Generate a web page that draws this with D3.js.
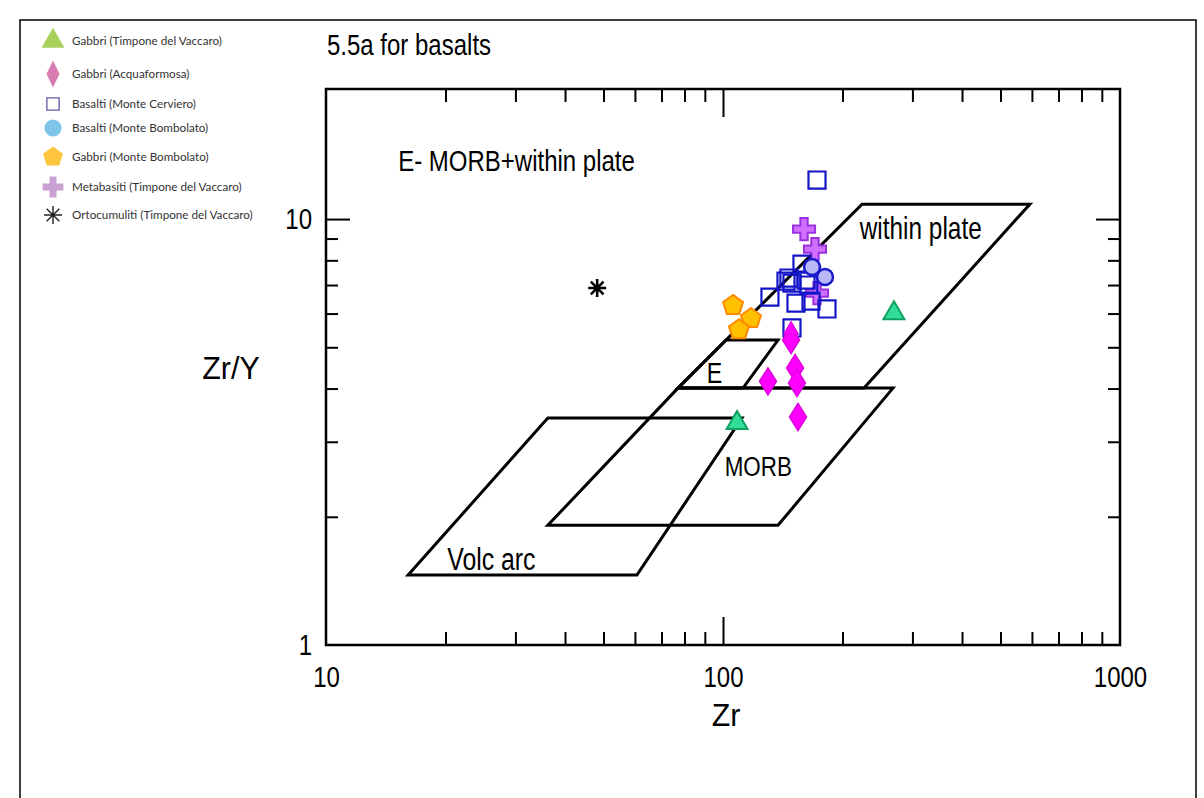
<!DOCTYPE html>
<html>
<head>
<meta charset="utf-8">
<script src="https://cdn.jsdelivr.net/npm/d3@7"></script>
<style>
  html, body { margin: 0; padding: 0; background: #fff; }
  svg { display: block; }
</style>
</head>
<body>
<svg id="chart" width="1204" height="798"></svg>
<script>
// ---- Sample data: Zr (ppm) and Zr/Y ----
const timponeGabbriZr  = [269.5, 108.5];
const timponeGabbriZrY = [6.01, 3.32];

const acquaformosaZr  = [148.4, 151.9, 153.6, 129.8, 154.5];
const acquaformosaZrY = [5.2, 4.47, 4.12, 4.16, 3.43];

const acquaformosaTriZr  = [148.4];
const acquaformosaTriZrY = [5.49];

const cervieroZr  = [172.5, 158.1, 146.6, 149.2, 144.1, 131.3, 152.7, 166.6, 182.8, 149.2, 161.9, 164.5];
const cervieroZrY = [12.35, 7.84, 7.27, 7.07, 7.15, 6.56, 6.35, 6.42, 6.15, 5.55, 7.19, 7.0];

const bombolatoBasaltZr  = [167.6, 180.7];
const bombolatoBasaltZrY = [7.72, 7.31];

const bombolatoGabbroZr  = [106, 117.6, 109.7];
const bombolatoGabbroZrY = [6.27, 5.84, 5.5];

const metabasiteZr  = [160, 170.5, 172.5];
const metabasiteZrY = [9.47, 8.5, 6.70];

const ortocumulitiZr  = [48.2];
const ortocumulitiZrY = [6.89];

// ---- Discrimination fields (Zr, Zr/Y vertices) ----
const volcArcZr  = [16.1, 36.2, 111.6, 60.7];
const volcArcZrY = [1.46, 3.41, 3.41, 1.46];
const morbZr  = [36.2, 137.6, 268, 77];
const morbZrY = [1.91, 1.91, 4.01, 4.01];
const withinPlateZr  = [77, 224, 593, 226.6];
const withinPlateZrY = [4.01, 10.84, 10.84, 4.01];
const eMorbZr  = [77, 101.8, 137.6, 112.3];
const eMorbZrY = [4.01, 5.2, 5.2, 4.01];

// ---- Axis ticks ----
const xMinorTicks = [20, 30, 40, 50, 60, 70, 80, 90, 200, 300, 400, 500, 600, 700, 800, 900];
const xMajorTicks = [10, 100, 1000];
const xTickLabels = ["10", "100", "1000"];
const yMinorTicks = [2, 3, 4, 5, 6, 7, 8, 9];
const yMajorTicks = [1, 10];
const yTickLabels = ["1", "10"];

const legendLabels = [
  "Gabbri (Timpone del Vaccaro)",
  "Gabbri (Acquaformosa)",
  "Basalti (Monte Cerviero)",
  "Basalti (Monte Bombolato)",
  "Gabbri (Monte Bombolato)",
  "Metabasiti (Timpone del Vaccaro)",
  "Ortocumuliti (Timpone del Vaccaro)"
];

// ---- Layout ----
const svg = d3.select("#chart");
const L = 326, R = 1120, T = 89, B = 645;
const x = d3.scaleLog().domain([10, 1000]).range([L, R]);
const y = d3.scaleLog().domain([1, 20.2]).range([B, T]);
const SX = 0.8; // horizontal squeeze of the plot lettering
const FONT = "'Liberation Sans', Arial, sans-serif";

const zip = (a, b) => a.map((v, i) => [v, b[i]]);

// outer frame
svg.append("rect").attr("x", 20).attr("y", 20).attr("width", 1176).attr("height", 800)
  .attr("fill", "none").attr("stroke", "#000").attr("stroke-width", 1.5);

// condensed text helper
function label(g, px, py, str, size, anchor, sx) {
  return g.append("text")
    .attr("transform", `translate(${px},${py}) scale(${sx || SX},1)`)
    .attr("text-anchor", anchor || "start")
    .attr("font-family", FONT)
    .attr("font-size", size)
    .attr("fill", "#000")
    .text(str);
}

// title
label(svg, 327, 55, "5.5a for basalts", 30);

// ---- Fields ----
const fieldG = svg.append("g").attr("fill", "none").attr("stroke", "#000")
  .attr("stroke-width", 3).attr("stroke-linejoin", "miter");
const closed = d3.line().x(d => x(d[0])).y(d => y(d[1])).curve(d3.curveLinearClosed);
[[volcArcZr, volcArcZrY], [morbZr, morbZrY], [withinPlateZr, withinPlateZrY], [eMorbZr, eMorbZrY]]
  .forEach(([a, b]) => fieldG.append("path").attr("d", closed(zip(a, b))));

// field names
label(svg, x(15.2), y(13.0), "E- MORB+within plate", 30);
label(svg, x(221), y(9.0), "within plate", 30.5);
label(svg, x(91), y(4.12), "E", 29);
label(svg, x(101), y(2.5), "MORB", 28);
label(svg, x(20.2), y(1.5), "Volc arc", 31);

// ---- Axes ----
function axisGroup(axis, tx, ty) {
  const g = svg.append("g").attr("transform", `translate(${tx},${ty})`).call(axis);
  g.select(".domain").remove();
  g.selectAll("line").attr("stroke", "#000").attr("stroke-width", 2);
  return g;
}
axisGroup(d3.axisBottom(x).tickValues(xMinorTicks).tickSize(-13).tickFormat(""), 0, B);
axisGroup(d3.axisBottom(x).tickValues([100]).tickSize(-28).tickFormat(""), 0, B);
axisGroup(d3.axisTop(x).tickValues(xMinorTicks).tickSize(-13).tickFormat(""), 0, T);
axisGroup(d3.axisTop(x).tickValues([100]).tickSize(-28).tickFormat(""), 0, T);
axisGroup(d3.axisLeft(y).tickValues(yMinorTicks).tickSize(-12).tickFormat(""), L, 0);
axisGroup(d3.axisLeft(y).tickValues([10]).tickSize(-24).tickFormat(""), L, 0);
axisGroup(d3.axisRight(y).tickValues(yMinorTicks).tickSize(-12).tickFormat(""), R, 0);
axisGroup(d3.axisRight(y).tickValues([10]).tickSize(-24).tickFormat(""), R, 0);

const xLab = axisGroup(d3.axisBottom(x).tickValues(xMajorTicks).tickSize(0).tickPadding(21)
  .tickFormat((d, i) => xTickLabels[i]), 0, B);
xLab.selectAll("text").attr("font-family", FONT).attr("font-size", 30).attr("fill", "#000")
  .attr("transform", `scale(${SX},1)`);
const yLab = axisGroup(d3.axisLeft(y).tickValues(yMajorTicks).tickSize(0).tickPadding(14 / SX)
  .tickFormat((d, i) => yTickLabels[i]), L, 0);
yLab.selectAll("text").attr("font-family", FONT).attr("font-size", 30).attr("fill", "#000")
  .attr("transform", `scale(${SX},1)`);

// frame
svg.append("rect").attr("x", L).attr("y", T).attr("width", R - L).attr("height", B - T)
  .attr("fill", "none").attr("stroke", "#000").attr("stroke-width", 2.5);

// axis titles
label(svg, 231, 379, "Zr/Y", 32, "middle", 0.95);
label(svg, 726, 726, "Zr", 32, "middle", 0.95);

// ---- Marker shapes ----
function pentagonPath(r) {
  const p = d3.path();
  for (let k = 0; k < 5; k++) {
    const a = -Math.PI / 2 + k * 2 * Math.PI / 5;
    const px = r * Math.cos(a), py = r * Math.sin(a);
    k ? p.lineTo(px, py) : p.moveTo(px, py);
  }
  p.closePath();
  return p.toString();
}
function diamondPath(w, h) {
  return `M0,${-h}L${w},0L0,${h}L${-w},0Z`;
}
function asteriskPath(r) {
  const d = r * Math.SQRT1_2;
  return `M0,${-r}V${r}M${-r},0H${r}M${-d},${-d}L${d},${d}M${-d},${d}L${d},${-d}`;
}
const tri = d3.symbol().type(d3.symbolTriangle);
const sq = d3.symbol().type(d3.symbolSquare);
const circ = d3.symbol().type(d3.symbolCircle);
const cross = d3.symbol().type(d3.symbolCross);

function plot(zr, zry, path, fill, stroke, sw) {
  svg.append("g").selectAll("path").data(zip(zr, zry)).join("path")
    .attr("transform", d => `translate(${x(d[0])},${y(d[1])})`)
    .attr("d", path)
    .attr("fill", fill).attr("stroke", stroke).attr("stroke-width", sw)
    .attr("stroke-linejoin", "miter");
}

plot(bombolatoGabbroZr, bombolatoGabbroZrY, pentagonPath(10.5), "#ffc000", "#ff8a00", 2);
plot(timponeGabbriZr, timponeGabbriZrY, tri.size(190)(), "#33dd99", "#10a060", 2);
plot(metabasiteZr, metabasiteZrY, cross.size(270)(), "#d070ff", "#9a30e0", 2);
plot(cervieroZr, cervieroZrY, sq.size(290)(), "none", "#1515c8", 2.2);
plot(bombolatoBasaltZr, bombolatoBasaltZrY, circ.size(200)(), "#b8b8f6", "#1a1acc", 2.5);
plot(acquaformosaZr, acquaformosaZrY, diamondPath(8.5, 13.5), "#ff00ff", "#dd00dd", 1.5);
plot(acquaformosaTriZr, acquaformosaTriZrY, tri.size(100)(), "#ff00ff", "#dd00dd", 1);
plot(ortocumulitiZr, ortocumulitiZrY, asteriskPath(9), "none", "#000", 2.6);

// ---- Legend ----
const legend = svg.append("g");
legend.append("rect").attr("x", 21).attr("y", 21).attr("width", 246).attr("height", 214).attr("fill", "#fff");
const rowY = [41, 74, 104, 128, 157, 187, 215];
const legendShapes = [
  { d: tri.size(230)(), fill: "#a8d05c", stroke: "none", sw: 0 },
  { d: diamondPath(6.5, 13.5), fill: "#d97cb2", stroke: "none", sw: 0 },
  { d: sq.size(150)(), fill: "none", stroke: "#5a5aa8", sw: 1.3 },
  { d: circ.size(230)(), fill: "#7dc6ea", stroke: "none", sw: 0 },
  { d: pentagonPath(10.5), fill: "#fdc53c", stroke: "none", sw: 0 },
  { d: cross.size(240)(), fill: "#c9a0d2", stroke: "none", sw: 0 },
  { d: asteriskPath(9), fill: "none", stroke: "#222", sw: 1.4 }
];
legendLabels.forEach((t, i) => {
  const s = legendShapes[i];
  legend.append("path").attr("transform", `translate(53,${rowY[i]})`).attr("d", s.d)
    .attr("fill", s.fill).attr("stroke", s.stroke).attr("stroke-width", s.sw);
  legend.append("text").attr("x", 72).attr("y", rowY[i] + 4)
    .attr("font-family", "Lato, 'Open Sans', sans-serif").attr("font-size", 11.7)
    .attr("fill", "#333").text(t);
});
</script>
</body>
</html>
